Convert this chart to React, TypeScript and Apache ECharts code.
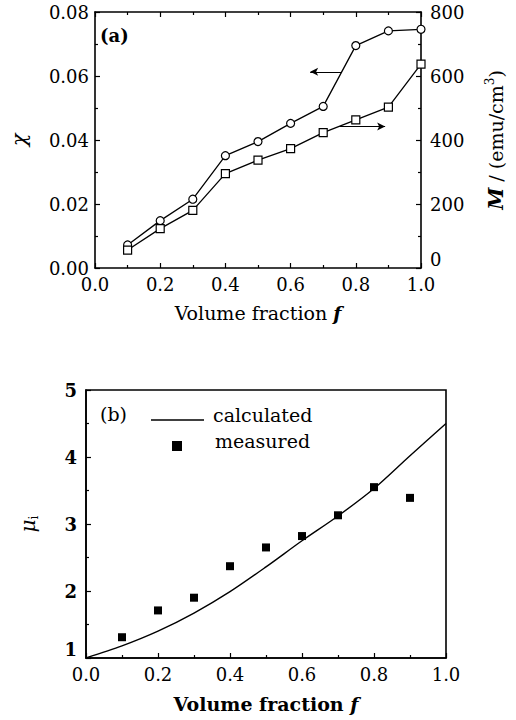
import React, { useEffect, useRef } from "react";
import * as echarts from "echarts";

// ---- Data ----
const fractionA = [0.1, 0.2, 0.3, 0.4, 0.5, 0.6, 0.7, 0.8, 0.9, 1.0];
const chiValues = [0.0072, 0.0148, 0.0215, 0.0351, 0.0395, 0.0452, 0.0505, 0.0695, 0.0741, 0.0746];
const magValues = [56, 123, 180, 295, 337, 373, 423, 463, 503, 637];

const fractionCalc = [0.0, 0.1, 0.2, 0.3, 0.4, 0.5, 0.6, 0.7, 0.8, 0.9, 1.0];
const muCalculated = [1.0, 1.18, 1.4, 1.67, 1.99, 2.36, 2.75, 3.12, 3.53, 4.02, 4.5];
const fractionMeas = [0.1, 0.2, 0.3, 0.4, 0.5, 0.6, 0.7, 0.8, 0.9];
const muMeasured = [1.31, 1.71, 1.9, 2.37, 2.65, 2.82, 3.13, 3.55, 3.39];

// arrows in panel (a): [fromX, toX, y]
const arrowChi = [0.755, 0.66, 0.0613];
const arrowMag = [0.75, 0.89, 442];

const FONT = "DejaVu Serif";
const INK = "#000";

export default function App() {
  const ref = useRef<HTMLDivElement>(null);
  useEffect(() => {
    if (!ref.current) return;
    const chart = echarts.init(ref.current, undefined, { renderer: "svg" });
    const lineStyleAxis = { color: INK, width: 1.6 };
    const tickIn = { show: true, inside: true, length: 5, lineStyle: { color: INK, width: 1.2 } };
    const minorIn = { show: true, splitNumber: 2, length: 3, lineStyle: { color: INK, width: 1.2 } };
    const lbl = { color: INK, fontFamily: FONT, fontSize: 18 };
    const fmt1 = (v: number) => v.toFixed(1);

    const option: any = {
      animation: false,
      backgroundColor: "#fff",
      grid: [
        { left: 86, top: 12, width: 347, height: 256, show: false },
        { left: 86, top: 390, width: 360, height: 268, show: true, borderColor: INK, borderWidth: 1.6, backgroundColor: "transparent" },
      ],
      xAxis: [
        {
          type: "value", gridIndex: 0, min: 0, max: 1, interval: 0.2, position: "bottom",
          axisLine: { show: true, onZero: false, lineStyle: lineStyleAxis },
          axisTick: tickIn, minorTick: minorIn, splitLine: { show: false },
          axisLabel: { ...lbl, margin: 7, formatter: fmt1 },
          name: "Volume fraction {i|f}", nameLocation: "middle", nameGap: 35,
          nameTextStyle: { ...lbl, fontSize: 19, rich: { i: { fontFamily: FONT, fontStyle: "italic", fontWeight: "bold", fontSize: 19, color: INK } } },
        },
        {
          type: "value", gridIndex: 0, min: 0, max: 1, interval: 0.2, position: "top",
          axisLine: { show: true, onZero: false, lineStyle: lineStyleAxis },
          axisTick: tickIn, minorTick: minorIn, splitLine: { show: false },
          axisLabel: { show: false },
        },
        {
          type: "value", gridIndex: 1, min: 0, max: 1, interval: 0.2, position: "bottom",
          axisLine: { show: true, onZero: false, lineStyle: lineStyleAxis },
          axisTick: tickIn, minorTick: minorIn, splitLine: { show: false },
          axisLabel: { ...lbl, margin: 7, formatter: fmt1 },
          name: "Volume fraction {i|f}", nameLocation: "middle", nameGap: 36,
          nameTextStyle: { ...lbl, fontSize: 19, fontWeight: "bold", rich: { i: { fontFamily: FONT, fontStyle: "italic", fontWeight: "bold", fontSize: 19, color: INK } } },
        },
      ],
      yAxis: [
        {
          type: "value", gridIndex: 0, min: 0, max: 0.08, interval: 0.02, position: "left",
          axisLine: { show: true, onZero: false, lineStyle: lineStyleAxis },
          axisTick: tickIn, minorTick: minorIn, splitLine: { show: false },
          axisLabel: { ...lbl, margin: 6, formatter: (v: number) => v.toFixed(2) },
          name: "{i|χ}", nameLocation: "middle", nameGap: 66, nameRotate: 90,
          nameTextStyle: { ...lbl, rich: { i: { fontFamily: FONT, fontStyle: "italic", fontSize: 21, color: INK } } },
        },
        {
          type: "value", gridIndex: 0, min: 0, max: 800, interval: 200, position: "right",
          axisLine: { show: true, onZero: false, lineStyle: lineStyleAxis },
          axisTick: tickIn, minorTick: minorIn, splitLine: { show: false },
          axisLabel: { ...lbl, margin: 9, verticalAlignMinLabel: "bottom", lineHeight: 18 },
          name: "{i|M} / (emu/cm{s|3})", nameLocation: "middle", nameGap: 63, nameRotate: 90,
          nameTextStyle: {
            ...lbl, fontSize: 19, lineHeight: 24,
            rich: {
              i: { fontFamily: FONT, fontStyle: "italic", fontWeight: "bold", fontSize: 20, color: INK, lineHeight: 24 },
              s: { fontFamily: FONT, fontSize: 12, color: INK, verticalAlign: "top", lineHeight: 12 },
            },
          },
        },
        {
          type: "value", gridIndex: 1, min: 1, max: 5, interval: 1, position: "left",
          axisLine: { show: true, onZero: false, lineStyle: lineStyleAxis },
          axisTick: tickIn, minorTick: minorIn, splitLine: { show: false },
          axisLabel: { ...lbl, fontWeight: "bold", margin: 9, verticalAlignMinLabel: "bottom", lineHeight: 18 },
          name: "{i|μ}{s|i}", nameLocation: "middle", nameGap: 46, nameRotate: 90,
          nameTextStyle: {
            ...lbl, lineHeight: 24,
            rich: {
              i: { fontFamily: FONT, fontStyle: "italic", fontSize: 20, color: INK, lineHeight: 24 },
              s: { fontFamily: FONT, fontSize: 12, color: INK, verticalAlign: "bottom", lineHeight: 12 },
            },
          },
        },
      ],
      series: [
        {
          type: "line", xAxisIndex: 0, yAxisIndex: 0,
          data: fractionA.map((f, i) => [f, chiValues[i]]),
          symbol: "circle", symbolSize: 8,
          lineStyle: { color: INK, width: 1.3 },
          itemStyle: { color: "#fff", borderColor: INK, borderWidth: 1.2 },
          clip: false,
          markLine: {
            silent: true, symbol: ["none", "arrow"], symbolSize: [6, 8],
            lineStyle: { color: INK, width: 1, type: "solid" }, label: { show: false },
            data: [[{ coord: [arrowChi[0], arrowChi[2]] }, { coord: [arrowChi[1], arrowChi[2]] }]],
          },
        },
        {
          type: "line", xAxisIndex: 0, yAxisIndex: 1,
          data: fractionA.map((f, i) => [f, magValues[i]]),
          symbol: "rect", symbolSize: 8,
          lineStyle: { color: INK, width: 1.3 },
          itemStyle: { color: "#fff", borderColor: INK, borderWidth: 1.2 },
          clip: false,
          markLine: {
            silent: true, symbol: ["none", "arrow"], symbolSize: [6, 8],
            lineStyle: { color: INK, width: 1, type: "solid" }, label: { show: false },
            data: [[{ coord: [arrowMag[0], arrowMag[2]] }, { coord: [arrowMag[1], arrowMag[2]] }]],
          },
        },
        {
          type: "line", xAxisIndex: 2, yAxisIndex: 2, name: "calculated",
          data: fractionCalc.map((f, i) => [f, muCalculated[i]]),
          smooth: 0.3, showSymbol: false, symbol: "none",
          lineStyle: { color: INK, width: 1.4 },
        },
        {
          type: "scatter", xAxisIndex: 2, yAxisIndex: 2, name: "measured",
          data: fractionMeas.map((f, i) => [f, muMeasured[i]]),
          symbol: "rect", symbolSize: 8,
          itemStyle: { color: INK, opacity: 1 },
        },
      ],
      graphic: [
        { type: "text", left: 100, top: 26, style: { text: "(a)", font: `bold 18px "${FONT}"`, fill: INK } },
        { type: "text", left: 100, top: 404, style: { text: "(b)", font: `19px "${FONT}"`, fill: INK } },
        { type: "line", shape: { x1: 151, y1: 420, x2: 204, y2: 420 }, style: { stroke: INK, lineWidth: 1.3 } },
        { type: "text", left: 213, top: 405, style: { text: "calculated", font: `19px "${FONT}"`, fill: INK } },
        { type: "rect", shape: { x: 172, y: 441, width: 10, height: 10 }, style: { fill: INK } },
        { type: "text", left: 215, top: 431, style: { text: "measured", font: `19px "${FONT}"`, fill: INK } },
      ],
    };
    chart.setOption(option);
    return () => chart.dispose();
  }, []);
  return (
    <div
      ref={ref}
      style={{ position: "absolute", left: 0, top: 0, width: 516, height: 720, background: "#fff" }}
    />
  );
}
